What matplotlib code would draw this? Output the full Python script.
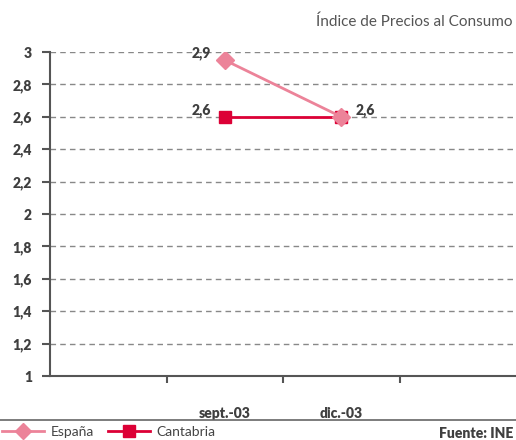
import numpy as np
import matplotlib.pyplot as plt
from matplotlib.lines import Line2D

plt.rcParams['font.family'] = ['Lato', 'DejaVu Sans']

categorias = ["", "sept.-03", "dic.-03", ""]
x_series = [1, 2]
espana = [2.95, 2.6]
cantabria = [2.6, 2.6]
etiq_espana = ["2,9", "2,6"]
etiq_cantabria = ["2,6", ""]
yticks = [1, 1.2, 1.4, 1.6, 1.8, 2, 2.2, 2.4, 2.6, 2.8, 3]

col_esp = '#EC8399'
col_can = '#DC0036'
gris = '#555555'
txt = '#3f3f3f'
peso = 'heavy'

fig = plt.figure(figsize=(5.16, 4.4), dpi=100)
ax = fig.add_axes([50/516, 1-376/440, 1-50/516, (376-52)/440])

ax.set_xlim(-0.5, 3.5)
ax.set_ylim(1, 3)

for y in yticks[1:]:
    ax.axhline(y, color='#888888', lw=1.0, ls=(0, (4, 3)), zorder=0)

ax.plot(x_series, cantabria, color=col_can, lw=2, marker='s', ms=9, zorder=3)
ax.plot(x_series, espana, color=col_esp, lw=2, marker='D', ms=9, zorder=4)

ax.text(1 - 0.12, espana[0], etiq_espana[0], ha='right', va='bottom', fontsize=10,
        fontweight=peso, color=txt)
ax.text(1 - 0.12, cantabria[0], etiq_cantabria[0], ha='right', va='bottom', fontsize=10,
        fontweight=peso, color=txt)
ax.text(2 + 0.12, espana[1], etiq_espana[1], ha='left', va='bottom', fontsize=10,
        fontweight=peso, color=txt)

ax.set_yticks(yticks)
ax.set_yticklabels([f"{v:g}".replace('.', ',') for v in yticks], fontsize=10,
                   fontweight=peso, color=txt)
ax.set_xticks([0.5, 1.5, 2.5])
ax.set_xticklabels([])
ax.set_xticks([1, 2], minor=True)
ax.set_xticklabels(categorias[1:3], minor=True, fontsize=10, fontweight=peso,
                   color=txt)
ax.tick_params(axis='x', which='minor', length=0, pad=22)
ax.tick_params(axis='x', which='major', length=5, width=1.5, color=gris, direction='out')
ax.tick_params(axis='y', length=6, width=1.5, color=gris, pad=7)

for s in ['top', 'right']:
    ax.spines[s].set_visible(False)
for s in ['left', 'bottom']:
    ax.spines[s].set_color(gris)
    ax.spines[s].set_linewidth(1.5)

fig.text(513/516, 1-22/440, "Índice de Precios al Consumo", ha='right', va='center',
         fontsize=11, color='#555555')

fig.add_artist(Line2D([0, 1], [1-420/440, 1-420/440], color='#666666', lw=1.2))

h1 = Line2D([], [], color=col_esp, lw=2, marker='D', ms=8)
h2 = Line2D([], [], color=col_can, lw=2, marker='s', ms=8)
fig.legend([h1, h2], ["España", "Cantabria"], loc='center left',
           bbox_to_anchor=(-0.02, 1-432/440), ncol=2, frameon=False, fontsize=10,
           handlelength=3.0, handletextpad=0.5, columnspacing=1.0,
           labelcolor='#444444')

fig.text(513/516, 1-433/440, "Fuente: INE", ha='right', va='center', fontsize=10,
         fontweight=peso, color=txt)

fig.savefig('out.png', dpi=100)
